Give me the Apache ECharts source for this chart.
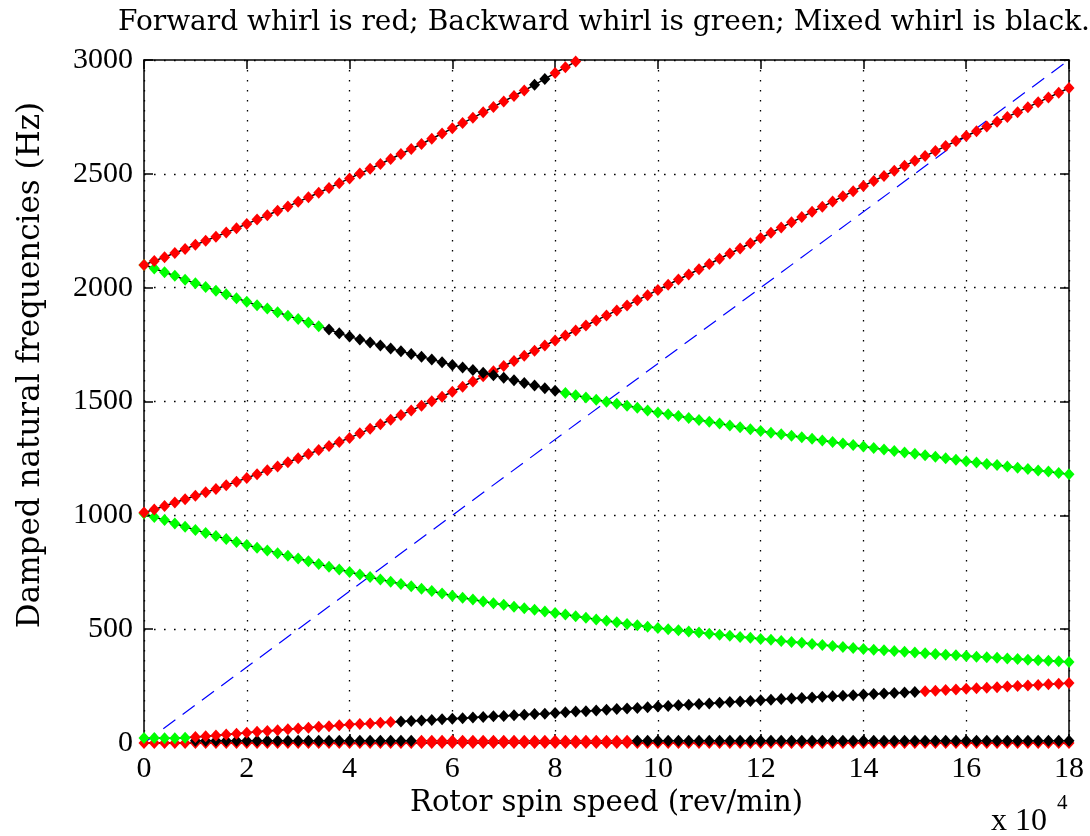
<!DOCTYPE html>
<html>
<head>
<meta charset="utf-8">
<script src="https://cdn.jsdelivr.net/npm/echarts@6/dist/echarts.min.js"></script>
<style>
html,body{margin:0;padding:0;background:#fff;}
#chart{width:1090px;height:836px;}
</style>
</head>
<body>
<div id="chart"></div>
<script>
// Rotor spin speed (x 10^4 rev/min)
var speeds = [0,0.2,0.4,0.6,0.8,1,1.2,1.4,1.6,1.8,2,2.2,2.4,2.6,2.8,3,3.2,3.4,3.6,3.8,4,4.2,4.4,4.6,4.8,5,5.2,5.4,5.6,5.8,6,6.2,6.4,6.6,6.8,7,7.2,7.4,7.6,7.8,8,8.2,8.4,8.6,8.8,9,9.2,9.4,9.6,9.8,10,10.2,10.4,10.6,10.8,11,11.2,11.4,11.6,11.8,12,12.2,12.4,12.6,12.8,13,13.2,13.4,13.6,13.8,14,14.2,14.4,14.6,14.8,15,15.2,15.4,15.6,15.8,16,16.2,16.4,16.6,16.8,17,17.2,17.4,17.6,17.8,18];

// Damped natural frequencies (Hz)
var mode1Upper = [2100,2117,2134,2152,2170,2188,2206,2224,2242,2261,2280,2299,2318,2338,2357,2377,2397,2417,2438,2459,2480,2501,2522,2543,2565,2587,2609,2631,2654,2677,2700,2723,2746,2770,2794,2818,2842,2866,2891,2917,2943,2968,2993,3018];
var mode1Lower = [2100,2084,2068,2052,2035,2019,2003,1987,1971,1954,1938,1923,1908,1892,1877,1862,1847,1831,1816,1800,1785,1772,1759,1746,1733,1721,1709,1697,1685,1672,1660,1649,1638,1626,1615,1604,1593,1581,1570,1558,1547,1537,1527,1518,1508,1499,1490,1481,1472,1461,1452,1444,1436,1428,1419,1411,1403,1395,1387,1378,1370,1363,1356,1350,1343,1336,1329,1322,1316,1309,1302,1296,1289,1283,1276,1270,1264,1257,1251,1244,1238,1232,1226,1221,1215,1209,1203,1197,1192,1186,1180];
var mode2Upper = [1012,1026,1041,1056,1071,1086,1101,1116,1132,1148,1164,1181,1198,1215,1233,1251,1269,1287,1305,1322,1340,1360,1380,1400,1420,1441,1461,1481,1501,1521,1543,1565,1588,1611,1633,1656,1678,1701,1723,1746,1768,1790,1812,1834,1856,1878,1900,1922,1945,1967,1990,2013,2036,2058,2081,2104,2127,2150,2172,2195,2218,2241,2264,2287,2310,2333,2355,2378,2401,2424,2447,2469,2491,2513,2535,2557,2578,2600,2622,2644,2666,2687,2708,2729,2750,2771,2793,2814,2835,2856,2877];
var mode2Lower = [1008,993,979,964,950,936,922,909,896,883,870,858,846,834,822,810,798,786,774,762,751,740,729,718,708,698,688,678,668,657,647,638,630,622,614,607,599,592,585,578,571,564,557,550,543,537,530,523,517,511,505,500,495,490,485,480,475,471,466,462,457,453,448,444,440,435,431,426,422,417,413,410,407,404,401,398,394,391,388,385,382,379,377,374,371,369,366,364,361,359,356];
var lowRising = [22,22,21,21,23,26,30,33,37,41,45,49,53,56,60,64,67,71,74,78,81,83,86,89,92,94,97,99,101,104,107,109,112,114,117,119,122,124,127,129,132,135,138,140,143,146,149,152,154,157,160,163,166,168,171,174,177,180,182,185,188,190,193,195,198,200,203,205,208,210,213,215,217,220,222,224,227,230,233,235,238,240,243,245,248,250,253,255,258,260,263];
var lowFlat = [null,null,null,null,null,10,10,10,10,10,10,10,10,10,10,10,10,10,10,10,10,10,10,10,10,10,10,10,10,10,10,10,10,10,10,10,10,10,10,10,10,10,10,10,10,10,10,10,10,10,10,10,10,10,10,10,10,10,10,10,10,10,10,10,10,10,10,10,10,10,10,10,10,10,10,10,10,10,10,10,10,10,10,10,10,10,10,10,10,10,10];
var zeroMode = [0,0,0,0,0,0,0,0,0,0,0,0,0,0,0,0,0,0,0,0,0,0,0,0,0,0,0,0,0,0,0,0,0,0,0,0,0,0,0,0,0,0,0,0,0,0,0,0,0,0,0,0,0,0,0,0,0,0,0,0,0,0,0,0,0,0,0,0,0,0,0,0,0,0,0,0,0,0,0,0,0,0,0,0,0,0,0,0,0,0,0];

// Whirl type by speed range: F forward, B backward, M mixed
var mode1UpperWhirl = [['F',0,7.4],['M',7.6,7.8],['F',8.0,18]];
var mode1LowerWhirl = [['B',0,3.4],['M',3.6,8.0],['B',8.2,18]];
var mode2UpperWhirl = [['F',0,18]];
var mode2LowerWhirl = [['B',0,18]];
var lowRisingWhirl = [['B',0,0.8],['F',1.0,4.8],['M',5.0,15.0],['F',15.2,18]];
var lowFlatWhirl = [['M',1.0,5.2],['F',5.4,9.4],['M',9.6,18]];
var zeroModeWhirl = [['F',0,18]];

// 1x synchronous line (Hz = rev/min / 60)
var syncSpeeds = [0, 18];
var syncFreqs = [0, 3000];

var whirlColor = {F:'#ff0000', B:'#00ff00', M:'#000000'};
function whirlAt(segs, x){
  for (var i=0;i<segs.length;i++){ if (x >= segs[i][1]-1e-9 && x <= segs[i][2]+1e-9) return segs[i][0]; }
  return 'M';
}
function curve(vals, segs){
  var d = [];
  for (var i=0;i<vals.length;i++){
    if (vals[i] === null || vals[i] === undefined) continue;
    d.push({value:[speeds[i], vals[i]], itemStyle:{color: whirlColor[whirlAt(segs, speeds[i])]}});
  }
  return {
    type:'line', data:d, symbol:'diamond', symbolSize:[11,12], clip:true,
    lineStyle:{color:'#000', width:1.5}, itemStyle:{borderWidth:0},
    emphasis:{disabled:true}, animation:false, z:3
  };
}

var serifText = '"DejaVu Serif", serif';
var digitFont = '"Liberation Serif", "Times New Roman", serif';
var dotted = {show:true, lineStyle:{color:'#000', width:1.3, type:[1.6,8.4]}};
function plainNum(v){ return String(v); }

var chart = echarts.init(document.getElementById('chart'), null, {renderer:'canvas'});
var syncData = syncSpeeds.map(function(x,i){return [x, syncFreqs[i]];});
var option = {
  backgroundColor:'#fff',
  animation:false,
  title:{
    text:'Forward whirl is red; Backward whirl is green; Mixed whirl is black.',
    left:599, top:4, textAlign:'center',
    textStyle:{fontFamily:serifText, fontSize:28, fontWeight:'normal', color:'#000'}
  },
  grid:{left:144, right:21, top:60, bottom:93, containLabel:false},
  xAxis:[{
    type:'value', min:0, max:18, interval:2, position:'bottom',
    name:'Rotor spin speed (rev/min)', nameLocation:'middle', nameGap:44,
    nameTextStyle:{fontFamily:serifText, fontSize:29, color:'#000'},
    axisLine:{show:true, onZero:false, lineStyle:{color:'#000', width:1.5}},
    axisTick:{show:true, inside:true, length:9, lineStyle:{color:'#000', width:1.5}},
    axisLabel:{fontFamily:digitFont, fontSize:30, color:'#000', margin:11, formatter:plainNum},
    splitLine:dotted
  },{
    type:'value', min:0, max:18, interval:2, position:'top',
    axisLine:{show:true, onZero:false, lineStyle:{color:'#000', width:1.5}},
    axisTick:{show:true, inside:true, length:9, lineStyle:{color:'#000', width:1.5}},
    axisLabel:{show:false}, splitLine:{show:false}
  }],
  yAxis:[{
    type:'value', min:0, max:3000, interval:500, position:'left',
    axisLine:{show:true, onZero:false, lineStyle:{color:'#000', width:1.5}},
    axisTick:{show:true, inside:true, length:9, lineStyle:{color:'#000', width:1.5}},
    axisLabel:{fontFamily:digitFont, fontSize:30, color:'#000', margin:11, formatter:plainNum},
    splitLine:dotted
  },{
    type:'value', min:0, max:3000, interval:500, position:'right',
    axisLine:{show:true, onZero:false, lineStyle:{color:'#000', width:1.5}},
    axisTick:{show:true, inside:true, length:9, lineStyle:{color:'#000', width:1.5}},
    axisLabel:{show:false}, splitLine:{show:false}
  }],
  graphic:[
    {type:'text', x:31, y:365, rotation:Math.PI/2,
     style:{text:'Damped natural frequencies (Hz)', font:'31px "DejaVu Serif", serif', fill:'#000', align:'center', verticalAlign:'middle'}},
    {type:'text', left:991, top:806, style:{text:'x 10', font:'32px "Liberation Serif", serif', fill:'#000'}},
    {type:'text', left:1057, top:793, style:{text:'4', font:'21px "Liberation Serif", serif', fill:'#000'}}
  ],
  series:[
    {type:'line', data:syncData, symbol:'none', clip:true, animation:false, z:2,
     lineStyle:{color:'#0000ff', width:1.2, type:[15,9]}},
    curve(zeroMode, zeroModeWhirl),
    curve(lowFlat, lowFlatWhirl),
    curve(lowRising, lowRisingWhirl),
    curve(mode2Lower, mode2LowerWhirl),
    curve(mode2Upper, mode2UpperWhirl),
    curve(mode1Lower, mode1LowerWhirl),
    curve(mode1Upper, mode1UpperWhirl)
  ]
};
chart.setOption(option);
</script>
</body>
</html>
